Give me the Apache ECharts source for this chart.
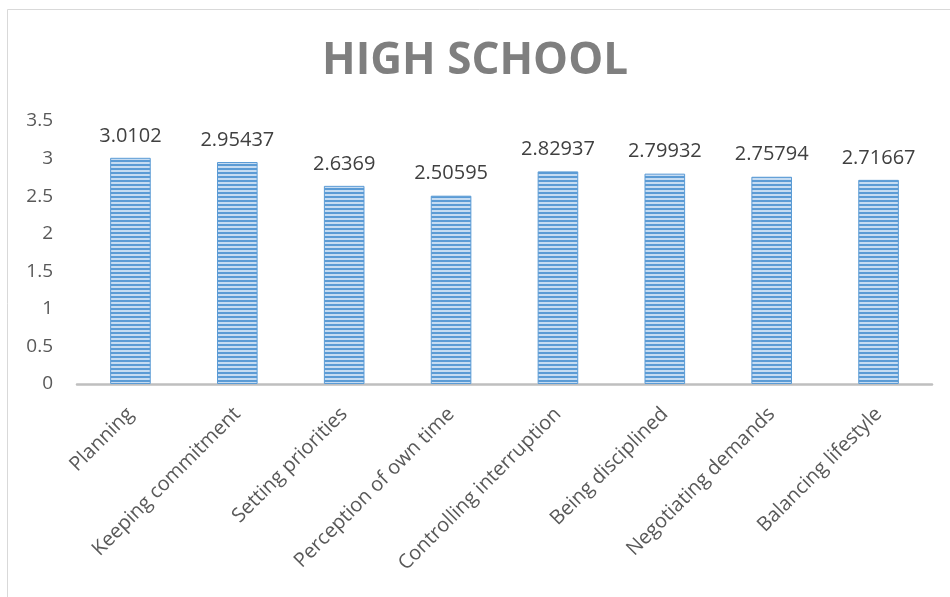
<!DOCTYPE html>
<html>
<head>
<meta charset="utf-8">
<script src="https://cdn.jsdelivr.net/npm/echarts@6/dist/echarts.min.js"></script>
<style>
  html, body { margin: 0; padding: 0; background: #fff; }
  #chart { width: 950px; height: 597px; }
</style>
</head>
<body>
<div id="chart"></div>
<script>
const categories = [
  'Planning', 'Keeping commitment', 'Setting priorities', 'Perception of own time',
  'Controlling interruption', 'Being disciplined', 'Negotiating demands', 'Balancing lifestyle'
];
const values = [3.0102, 2.95437, 2.6369, 2.50595, 2.82937, 2.79932, 2.75794, 2.71667];
const yTicks = [0, 0.5, 1, 1.5, 2, 2.5, 3, 3.5];

// Horizontal stripe fill for the bars
function stripePattern() {
  const c = document.createElement('canvas');
  c.width = 4; c.height = 4;
  const ctx = c.getContext('2d');
  ctx.fillStyle = '#c6dcf2';
  ctx.fillRect(0, 0, 4, 4);
  ctx.fillStyle = '#5b9bd5';
  ctx.fillRect(0, 0, 4, 2);
  return c;
}

const chart = echarts.init(document.getElementById('chart'), null, { renderer: 'canvas' });
const font = '"Open Sans", "Liberation Sans", sans-serif';

chart.setOption({
  animation: false,
  backgroundColor: '#fff',
  graphic: [{
    type: 'rect',
    shape: { x: 7.5, y: 9.5, width: 1000, height: 1000 },
    style: { fill: 'none', stroke: '#d9d9d9', lineWidth: 1 }
  }],
  title: {
    text: 'HIGH SCHOOL',
    left: 'center',
    top: 34,
    textStyle: { fontFamily: font, fontSize: 44, fontWeight: 'bold', color: '#7f7f7f' }
  },
  grid: { left: 77, right: 18, top: 121, bottom: 213 },
  xAxis: {
    type: 'category',
    data: categories,
    axisLine: { lineStyle: { color: '#bfbfbf', width: 2.5 } },
    axisTick: { show: false },
    axisLabel: {
      interval: 0,
      rotate: 45,
      margin: 27,
      fontFamily: font,
      fontSize: 20,
      color: '#595959'
    }
  },
  yAxis: {
    type: 'value',
    min: yTicks[0],
    max: yTicks[yTicks.length - 1],
    interval: 0.5,
    splitLine: { show: false },
    axisLine: { show: false },
    axisTick: { show: false },
    axisLabel: {
      margin: 24,
      fontFamily: font,
      fontSize: 19,
      color: '#595959'
    }
  },
  series: [{
    type: 'bar',
    data: values,
    barWidth: '38%',
    itemStyle: {
      color: { image: stripePattern(), repeat: 'repeat' },
      borderColor: '#5b9bd5',
      borderWidth: 1
    },
    label: {
      show: true,
      position: 'top',
      distance: 12,
      fontFamily: font,
      fontSize: 20,
      color: '#404040',
      formatter: p => String(values[p.dataIndex])
    }
  }]
});
</script>
</body>
</html>
